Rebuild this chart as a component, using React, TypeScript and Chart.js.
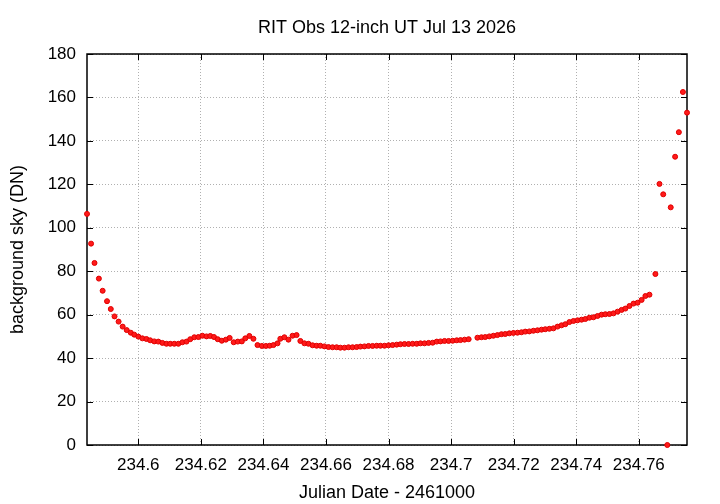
import React, { useEffect, useRef } from "react";
import { Chart, registerables } from "chart.js";

Chart.register(...registerables);

const FONT = '"Liberation Sans", Arial, Helvetica, sans-serif';

const chartTitle = "RIT Obs 12-inch UT Jul 13 2026";
const xAxisTitle = "Julian Date - 2461000";
const yAxisTitle = "background sky (DN)";

const xTicks = [234.6, 234.62, 234.64, 234.66, 234.68, 234.7, 234.72, 234.74, 234.76];
const yTicks = [0, 20, 40, 60, 80, 100, 120, 140, 160, 180];

const jd = [
  234.5836, 234.5849, 234.586, 234.5874, 234.5886, 234.59, 234.5912, 234.5924, 234.5937, 234.595,
  234.5963, 234.5976, 234.5987, 234.6, 234.6013, 234.6026, 234.6038, 234.6051, 234.6064, 234.6077,
  234.609, 234.6102, 234.6115, 234.6128, 234.6141, 234.6154, 234.6166, 234.6179, 234.6192, 234.6205,
  234.6218, 234.623, 234.6242, 234.6254, 234.6267, 234.628, 234.6292, 234.6305, 234.6318, 234.6331,
  234.6342, 234.6355, 234.6368, 234.6381, 234.6395, 234.6408, 234.642, 234.6432, 234.6445,
  234.6454, 234.6467, 234.648, 234.6493, 234.6506, 234.6518, 234.6531, 234.6544, 234.6557, 234.657,
  234.6582, 234.6595, 234.6608, 234.6621, 234.6634, 234.6646, 234.6659, 234.6672, 234.6685, 234.6698,
  234.671, 234.6723, 234.6736, 234.6749,
  234.6762, 234.6774, 234.6787, 234.68, 234.6813, 234.6826, 234.6838, 234.6851, 234.6864, 234.6877,
  234.689, 234.6902, 234.6915, 234.6928, 234.6941, 234.6954, 234.6966, 234.6979, 234.6992, 234.7005,
  234.7018, 234.703, 234.7043, 234.7056,
  234.7084, 234.7097,
  234.7109, 234.7122, 234.7135, 234.7148, 234.7161, 234.7173, 234.7186, 234.7199, 234.7212, 234.7225,
  234.7237, 234.725, 234.7263, 234.7276, 234.7289, 234.7301, 234.7314, 234.7327, 234.734, 234.7353,
  234.7365, 234.7378, 234.7391, 234.7404, 234.7417, 234.7429, 234.7442, 234.7455,
  234.7468, 234.7481, 234.7493, 234.7506, 234.7519, 234.7532, 234.7545, 234.7557, 234.757, 234.7583,
  234.7596, 234.7609, 234.7621, 234.7634,
  234.7653, 234.7666, 234.7678, 234.7691, 234.7702, 234.7716, 234.7728, 234.7741, 234.7754,
];

const sky = [
  106.4, 92.7, 83.8, 76.6, 71.0, 66.2, 62.6, 59.2, 56.8, 54.5,
  52.9, 51.7, 50.8, 49.9, 49.1, 48.8, 48.2, 47.7, 47.6, 47.0,
  46.6, 46.6, 46.6, 46.6, 47.3, 47.6, 48.7, 49.6, 49.7, 50.3,
  50.0, 50.2, 49.7, 48.7, 48.0, 48.5, 49.3, 47.3, 47.6, 47.7,
  49.1, 50.2, 48.9, 46.0, 45.6, 45.6, 45.7, 46.0, 46.8,
  48.9, 49.6, 48.5, 50.3, 50.6, 47.9, 46.8, 46.6, 45.9, 45.7,
  45.7, 45.4, 45.1, 45.0, 45.0, 44.8, 44.8, 45.0, 45.0, 45.1,
  45.3, 45.4, 45.6, 45.6,
  45.7, 45.7, 45.7, 45.9, 46.0, 46.2, 46.4, 46.5, 46.5, 46.6,
  46.6, 46.8, 46.8, 47.0, 47.1, 47.6, 47.7, 47.9, 47.9, 48.0,
  48.2, 48.3, 48.5, 48.7,
  49.4, 49.6,
  49.7, 50.0, 50.3, 50.6, 51.0, 51.1, 51.4, 51.6, 51.7, 51.9,
  52.2, 52.3, 52.6, 52.8, 53.1, 53.3, 53.5, 53.7, 54.5, 55.1,
  55.6, 56.6, 57.1, 57.4, 57.7, 58.0, 58.6, 58.8,
  59.4, 60.0, 60.2, 60.3, 60.6, 61.4, 62.2, 62.8, 64.0, 65.1,
  65.5, 66.8, 68.6, 69.2,
  78.7, 120.2, 115.4, 0, 109.4, 132.7, 144.0, 162.5, 153.0,
];

export default function App() {
  const ref = useRef<HTMLCanvasElement>(null);

  useEffect(() => {
    document.body.style.margin = "0";
    const canvas = ref.current;
    if (!canvas) return;

    const framePlugin = {
      id: "frame",
      beforeDatasetsDraw(chart: any) {
        const { ctx, chartArea } = chart;
        const { left, right, top, bottom } = chartArea;
        const xs = chart.scales.x;
        const ys = chart.scales.y;
        ctx.save();
        ctx.strokeStyle = "#000";
        ctx.lineWidth = 1;
        const tl = 6;
        ctx.beginPath();
        xTicks.forEach((v) => {
          const px = Math.round(xs.getPixelForValue(v)) + 0.5;
          ctx.moveTo(px, bottom);
          ctx.lineTo(px, bottom - tl);
          ctx.moveTo(px, top);
          ctx.lineTo(px, top + tl);
        });
        yTicks.forEach((v) => {
          const py = Math.round(ys.getPixelForValue(v)) + 0.5;
          ctx.moveTo(left, py);
          ctx.lineTo(left + tl, py);
          ctx.moveTo(right, py);
          ctx.lineTo(right - tl, py);
        });
        ctx.stroke();
        ctx.lineWidth = 1.5;
        ctx.strokeRect(left, top, right - left, bottom - top);
        ctx.restore();
      },
    };

    const points = jd.map((x, i) => ({ x, y: sky[i] }));

    const chart = new Chart(canvas, {
      type: "scatter",
      data: {
        datasets: [
          {
            data: points,
            backgroundColor: "#ff1a1a",
            borderColor: "#e00000",
            borderWidth: 1,
            pointRadius: 2.5,
            clip: false as any,
          },
        ],
      },
      options: {
        responsive: false,
        animation: false,
        events: [],
        layout: { padding: { left: 0, right: 33, top: 0, bottom: 0 } },
        plugins: {
          legend: { display: false },
          tooltip: { enabled: false },
          title: {
            display: true,
            text: chartTitle,
            fullSize: false,
            color: "#000",
            font: { family: FONT, size: 18, weight: "normal" as any },
            padding: { top: 17.5, bottom: 14.9 },
          },
        },
        scales: {
          x: {
            type: "linear",
            position: "bottom",
            min: jd[0],
            max: jd[jd.length - 1],
            afterBuildTicks: (s: any) => {
              s.ticks = xTicks.map((v) => ({ value: v }));
            },
            afterFit: (s: any) => {
              s.height = 59;
            },
            ticks: {
              color: "#000",
              font: { family: FONT, size: 17 },
              padding: 10,
              maxRotation: 0,
              autoSkip: false,
              callback: (v: any) => String(parseFloat(Number(v).toFixed(2))),
            },
            grid: { color: "#b0b0b0", lineWidth: 1, drawTicks: false },
            border: { display: false, dash: [1, 2] },
            title: {
              display: true,
              text: xAxisTitle,
              color: "#000",
              font: { family: FONT, size: 18 },
              padding: { top: 0, bottom: 0.5 },
            },
          },
          y: {
            type: "linear",
            min: 0,
            max: 180,
            afterBuildTicks: (s: any) => {
              s.ticks = yTicks.map((v) => ({ value: v }));
            },
            afterFit: (s: any) => {
              s.width = 87;
            },
            ticks: {
              color: "#000",
              font: { family: FONT, size: 17 },
              padding: 11,
              autoSkip: false,
            },
            grid: { color: "#b0b0b0", lineWidth: 1, drawTicks: false },
            border: { display: false, dash: [1, 2] },
            title: {
              display: true,
              text: yAxisTitle,
              color: "#000",
              font: { family: FONT, size: 18 },
              padding: { top: 7.5, bottom: 0 },
            },
          },
        },
      },
      plugins: [framePlugin],
    });

    return () => chart.destroy();
  }, []);

  return (
    <div style={{ position: "absolute", left: 0, top: 0, width: 720, height: 504 }}>
      <canvas ref={ref} width={720} height={504} style={{ width: 720, height: 504, display: "block" }} />
    </div>
  );
}
